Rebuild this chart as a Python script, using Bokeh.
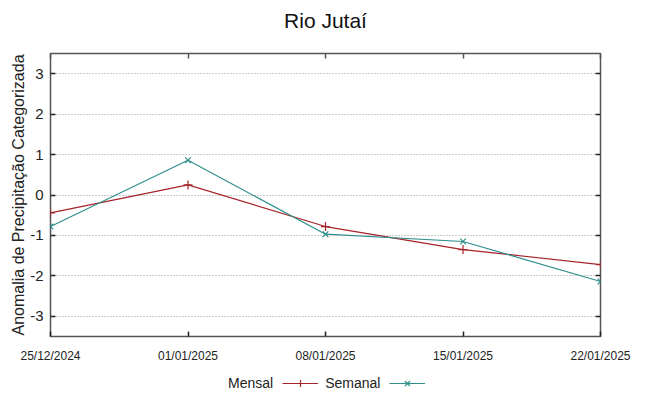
import pandas as pd
from bokeh.plotting import figure
from bokeh.layouts import column
from bokeh.models import (ColumnDataSource, FixedTicker, LinearAxis, Legend, LegendItem,
                          Range1d, CustomJSTickFormatter)
from bokeh.embed import file_html
from bokeh.resources import INLINE

# ---- data ----
dates = ["2024-12-25", "2025-01-01", "2025-01-08", "2025-01-15", "2025-01-22"]
tick_labels = ["25/12/2024", "01/01/2025", "08/01/2025", "15/01/2025", "22/01/2025"]
mensal = [-0.44, 0.25, -0.78, -1.35, -1.72]
semanal = [-0.78, 0.86, -0.97, -1.15, -2.14]
y_ticks = [-3, -2, -1, 0, 1, 2, 3]
y_tick_labels = ["-3", "-2", "-1", "0", "1", "2", "3"]

x = pd.to_datetime(dates)
xms = [float(t.value // 10**6) for t in x]
src = ColumnDataSource(dict(x=xms, mensal=mensal, semanal=semanal))

red = "#a8232a"
teal = "#2f8f8c"
font = "Liberation Sans"

# ---- title strip ----
t = figure(width=649, height=36, output_backend="svg", toolbar_location=None,
           x_range=Range1d(0, 1), y_range=Range1d(0, 1),
           x_axis_location=None, y_axis_location=None,
           min_border_left=50, min_border_right=49, min_border_top=31, min_border_bottom=0)
t.title.text = "Rio Jutaí"
t.title.align = "center"
t.title.text_font = font
t.title.text_font_size = "21px"
t.title.text_font_style = "normal"
t.title.text_color = "#111111"
t.title.standoff = 0
t.outline_line_color = None
t.grid.grid_line_color = None

# ---- main plot ----
p = figure(width=649, height=334, output_backend="svg", toolbar_location=None,
           x_range=Range1d(xms[0], xms[-1]), y_range=Range1d(-3.5, 3.5),
           min_border_left=50, min_border_right=49, min_border_top=17, min_border_bottom=34)

p.outline_line_color = "#555555"
p.outline_line_width = 1.5
p.outline_line_alpha = 1
p.background_fill_color = "white"
p.border_fill_color = "white"

xt = FixedTicker(ticks=xms)
yt = FixedTicker(ticks=y_ticks)
fmt_code = "const labs = %s; const xs = %s; for (let i=0;i<xs.length;i++){ if (Math.abs(xs[i]-tick)<1000) return labs[i]; } return '';" % (str(tick_labels), str(xms))
empty = CustomJSTickFormatter(code="return '';")

p.xaxis.ticker = xt
p.xaxis.formatter = CustomJSTickFormatter(code=fmt_code)
p.xaxis.major_label_standoff = 12
p.xaxis.major_label_text_font = font
p.xaxis.major_label_text_font_size = "12px"
p.yaxis.ticker = yt
p.yaxis.major_label_overrides = {tk: s for tk, s in zip(y_ticks, y_tick_labels)}

for ax in [p.xaxis[0], p.yaxis[0]]:
    ax.axis_line_color = None
    ax.major_tick_in = 5
    ax.major_tick_out = 0
    ax.major_tick_line_color = "#222222"
    ax.major_tick_line_width = 1.5
    ax.minor_tick_line_color = None
    ax.major_label_text_color = "#222222"

p.yaxis.major_label_text_font = font
p.yaxis.major_label_text_font_size = "15px"
p.yaxis.major_label_standoff = 7
p.yaxis.axis_label = "Anomalia de Precipitação Categorizada"
p.yaxis.axis_label_text_font = font
p.yaxis.axis_label_text_font_size = "16px"
p.yaxis.axis_label_text_font_style = "normal"
p.yaxis.axis_label_text_color = "#222222"
p.yaxis.axis_label_standoff = 0

# mirrored axes (ticks only)
ra = LinearAxis(ticker=yt, formatter=empty, axis_line_color=None,
                major_label_standoff=0,
                major_tick_in=5, major_tick_out=0, major_tick_line_color="#222222",
                major_tick_line_width=1.5, minor_tick_line_color=None)
p.add_layout(ra, "right")
ta = LinearAxis(ticker=xt, formatter=empty, axis_line_color=None,
                major_label_standoff=0,
                major_tick_in=5, major_tick_out=0, major_tick_line_color="#555555",
                major_tick_line_width=1.5, minor_tick_line_color=None)
p.add_layout(ta, "above")

p.xgrid.grid_line_color = None
p.ygrid.grid_line_color = "#999999"
p.ygrid.grid_line_dash = "1 2"
p.ygrid.grid_line_width = 1

p.line("x", "mensal", source=src, color=red, line_width=1.2)
p.scatter("x", "mensal", source=src, marker="cross", size=9, line_color=red, line_width=1.2)
p.line("x", "semanal", source=src, color=teal, line_width=1.2)
p.scatter("x", "semanal", source=src, marker="x", size=8, line_color=teal, line_width=1.2)

# ---- legend strip below the plot (same series, off-range so only the legend shows) ----
q = figure(width=649, height=26, output_backend="svg", toolbar_location=None,
           x_range=Range1d(xms[0], xms[-1]), y_range=Range1d(10, 11),
           x_axis_location=None, y_axis_location=None, min_border=0)
q.outline_line_color = None
q.grid.grid_line_color = None
q.background_fill_color = "white"
q.border_fill_color = "white"
dummy = q.line("x", "mensal", source=src, line_alpha=0)
k1 = q.line("x", "mensal", source=src, color=red, line_width=1.2)
k1m = q.scatter("x", "mensal", source=src, marker="cross", size=9, line_color=red, line_width=1.2)
k2 = q.line("x", "semanal", source=src, color=teal, line_width=1.2)
k2m = q.scatter("x", "semanal", source=src, marker="x", size=8, line_color=teal, line_width=1.2)

# text-before-sample ordering, as in the reference legend
legend = Legend(items=[LegendItem(label="Mensal", renderers=[dummy]),
                       LegendItem(label="Semanal", renderers=[k1, k1m]),
                       LegendItem(label=" ", renderers=[k2, k2m])],
                orientation="horizontal", location=(135, 4),
                label_text_font=font, label_text_font_size="14px",
                label_text_color="#222222",
                border_line_color=None, background_fill_alpha=0,
                glyph_width=36, glyph_height=18, spacing=9, padding=0, margin=0,
                label_standoff=7)
q.add_layout(legend, "center")

open("out.html", "w").write(file_html(column(t, p, q), INLINE))
